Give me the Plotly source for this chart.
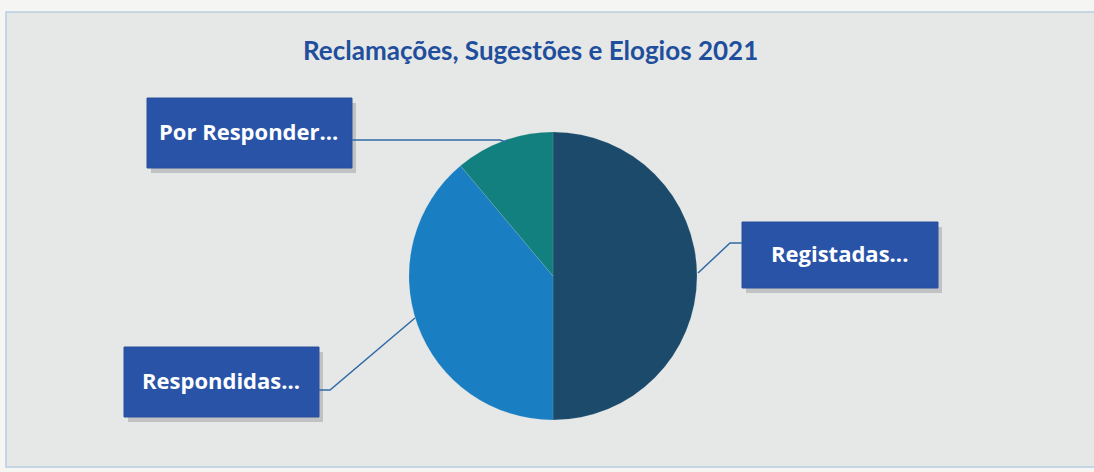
import plotly.graph_objects as go

# Reclamações, Sugestões e Elogios 2021 — counts per state
categorias = ["Registadas", "Respondidas", "Por Responder"]
valores = [18, 14, 4]
cores = ["#1b4a6b", "#1a7ec2", "#12807e"]
rotulos = ["Registadas...", "Respondidas...", "Por Responder..."]

W, H = 1094, 472


def px(x):
    return x / W


def py(y):
    return 1 - y / H


# pie placement (pixels)
cx, cy, r = 553, 276, 144

fig = go.Figure(
    go.Pie(
        labels=categorias,
        values=valores,
        sort=False,
        direction="clockwise",
        rotation=0,
        marker=dict(colors=cores, line=dict(color="rgba(200,215,225,0.35)", width=0.4)),
        textinfo="none",
        hoverinfo="label+value+percent",
        showlegend=False,
        domain=dict(x=[px(cx - r), px(cx + r)], y=[py(cy + r), py(cy - r)]),
    )
)

shapes = []

# chart frame
shapes.append(dict(type="rect", xref="paper", yref="paper",
                   x0=px(6), x1=px(1100), y0=py(467), y1=py(12),
                   fillcolor="#e6e8e7", line=dict(color="#b9cde0", width=1.5),
                   layer="below"))

# label boxes (pixel rects) with a soft drop shadow
caixas = {
    "Por Responder...": (147, 98, 352, 168),
    "Registadas...": (742, 222, 938, 288),
    "Respondidas...": (124, 347, 319, 417),
}
for texto, (x0, y0, x1, y1) in caixas.items():
    shapes.append(dict(type="rect", xref="paper", yref="paper",
                       x0=px(x0 + 4), x1=px(x1 + 4), y0=py(y1 + 5), y1=py(y0 + 5),
                       fillcolor="rgba(60,60,70,0.22)", line=dict(width=0)))
    shapes.append(dict(type="rect", xref="paper", yref="paper",
                       x0=px(x0), x1=px(x1), y0=py(y1), y1=py(y0),
                       fillcolor="#2953a7", line=dict(color="#2a4f9c", width=1)))

# leader lines from the boxes to the slices
guias = [
    [(352, 140), (500, 140), (506, 142)],
    [(742, 243), (730, 243), (698, 273)],
    [(319, 390), (330, 390), (415, 318)],
]
for pts in guias:
    path = "M " + " L ".join(f"{px(x):.5f},{py(y):.5f}" for x, y in pts)
    shapes.append(dict(type="path", xref="paper", yref="paper", path=path,
                       line=dict(color="#2f6aa6", width=1.5)))

annotations = [
    dict(text="<b>Reclamações, Sugestões e Elogios 2021</b>",
         x=px(530), y=py(50), xref="paper", yref="paper", showarrow=False,
         font=dict(family="Lato", size=26, color="#1f4f9c"),
         xanchor="center", yanchor="middle"),
]
for texto, (x0, y0, x1, y1) in caixas.items():
    annotations.append(dict(text=f"<b>{texto}</b>",
                            x=px((x0 + x1) / 2 - 1), y=py((y0 + y1) / 2 - 2),
                            xref="paper", yref="paper", showarrow=False,
                            font=dict(family="Open Sans", size=22, color="#ffffff"),
                            xanchor="center", yanchor="middle"))

fig.update_layout(
    width=W, height=H,
    margin=dict(l=0, r=0, t=0, b=0),
    paper_bgcolor="#f5f5f4",
    plot_bgcolor="#f5f5f4",
    shapes=shapes,
    annotations=annotations,
)

fig.write_html("out.html")
